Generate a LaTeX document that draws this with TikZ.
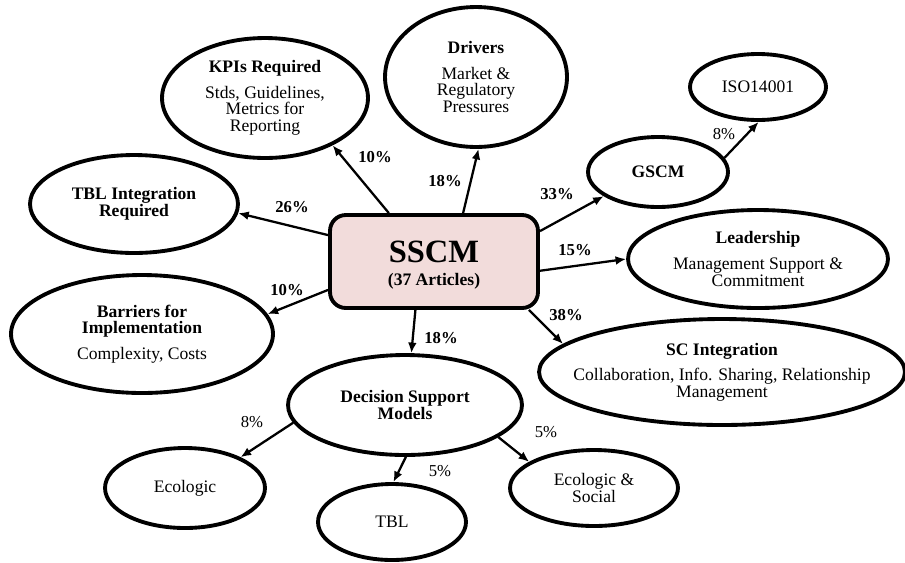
\documentclass[tikz,border=0pt]{standalone}
\usepackage{fontspec}
\setmainfont{Liberation Serif}
\usetikzlibrary{shapes.geometric,arrows.meta}
\definecolor{sscmpink}{HTML}{F2DCDB}

\begin{document}
\begin{tikzpicture}[x=0.02cm,y=-0.02cm,
 bub/.style={draw,ellipse,line width=2.2pt,inner sep=0pt,align=center,font=\fontsize{10}{9.5}\selectfont},
 arr/.style={line width=1.3pt,-{Latex[length=6pt,width=5pt]}},
 pct/.style={font=\fontsize{9.5}{10}\selectfont\bfseries},
 subpct/.style={font=\fontsize{9.5}{10}\selectfont}]
 \useasboundingbox(0,0)rectangle(905,562);
 % centre box
 \node[draw,line width=2.2pt,rounded corners=9pt,fill=sscmpink,minimum width=4.16cm,minimum height=1.86cm](sscm)at(434,261.5){};
 \node[align=center,font=\fontsize{10}{12}\selectfont,yshift=-2pt](sscmtxt)at(sscm){{\fontsize{18.5}{20}\selectfont\bfseries SSCM}\\[1pt]\textbf{(37 Articles)}};
 % first level
 \node[bub,minimum width=4.12cm,minimum height=2.4cm](kpi)at(265,98){\textbf{KPIs Required}\\[5pt]Stds, Guidelines,\\Metrics for\\Reporting};
 \node[bub,minimum width=3.64cm,minimum height=2.8cm](drivers)at(476,77){\textbf{Drivers}\\[5pt]Market \&\\Regulatory\\Pressures};
 \node[bub,minimum width=2.8cm,minimum height=1.4cm](gscm)at(658,172){\textbf{GSCM}};
 \node[bub,minimum width=5.2cm,minimum height=1.96cm](lead)at(758,259){\textbf{Leadership}\\[5pt]Management Support \&\\Commitment};
 \node[bub,inner xsep=-30pt,minimum width=7.32cm,minimum height=2.12cm](scint)at(722,372){\textbf{SC Integration}\\[5pt]Collaboration, Info. Sharing, Relationship\\Management};
 \node[bub,minimum width=4.16cm,minimum height=1.96cm](tblint)at(134,204){\textbf{TBL Integration}\\\textbf{Required}};
 \node[bub,minimum width=5.24cm,minimum height=2.36cm](barr)at(142,334){\textbf{Barriers for}\\\textbf{Implementation}\\[5pt]Complexity, Costs};
 \node[bub,minimum width=4.68cm,minimum height=2cm](dsm)at(405,405){\textbf{Decision Support}\\\textbf{Models}};
 % second level
 \node[bub,minimum width=2.72cm,minimum height=1.32cm](iso)at(758,87){ISO14001};
 \node[bub,minimum width=3.2cm,minimum height=1.6cm](eco)at(185,488){Ecologic};
 \node[bub,minimum width=2.96cm,minimum height=1.52cm](tbl)at(392,522){TBL};
 \node[bub,minimum width=3.36cm,minimum height=1.52cm](ecosoc)at(594,488){Ecologic \&\\Social};
 % connectors
 \draw[arr](sscm.133)--(kpi.-35);
 \draw[arr](sscm.59)--(drivers.-88);
 \draw[arr](sscm.166)--(tblint.-5);
 \draw[arr](sscm.195)--(barr.9);
 \draw[arr](sscm.249)--(dsm.83);
 \draw[arr](sscm.-27)--(scint.170);
 \draw[arr](sscm.-5)--(lead.180);
 \draw[arr](sscm.16)--(gscm.204);
 \draw[arr](gscm.12)--(iso.-89);
 \draw[arr](dsm.189)--(eco.29);
 \draw[arr](dsm.-89)--(tbl.88);
 \draw[arr](dsm.-19)--(ecosoc.158);
 % shares
 \node[pct](pkpi)at(375,157){10\%};
 \node[pct](pdrivers)at(445,181){18\%};
 \node[pct](ptblint)at(292,207){26\%};
 \node[pct](pbarr)at(287,290){10\%};
 \node[pct](pdsm)at(441,338){18\%};
 \node[pct](pscint)at(566,315){38\%};
 \node[pct](plead)at(575,250){15\%};
 \node[pct](pgscm)at(557,194){33\%};
 \node[subpct](piso)at(724,134){8\%};
 \node[subpct](peco)at(252,422){8\%};
 \node[subpct](ptbl)at(440,471){5\%};
 \node[subpct](pecosoc)at(546,432){5\%};
\end{tikzpicture}
\end{document}
